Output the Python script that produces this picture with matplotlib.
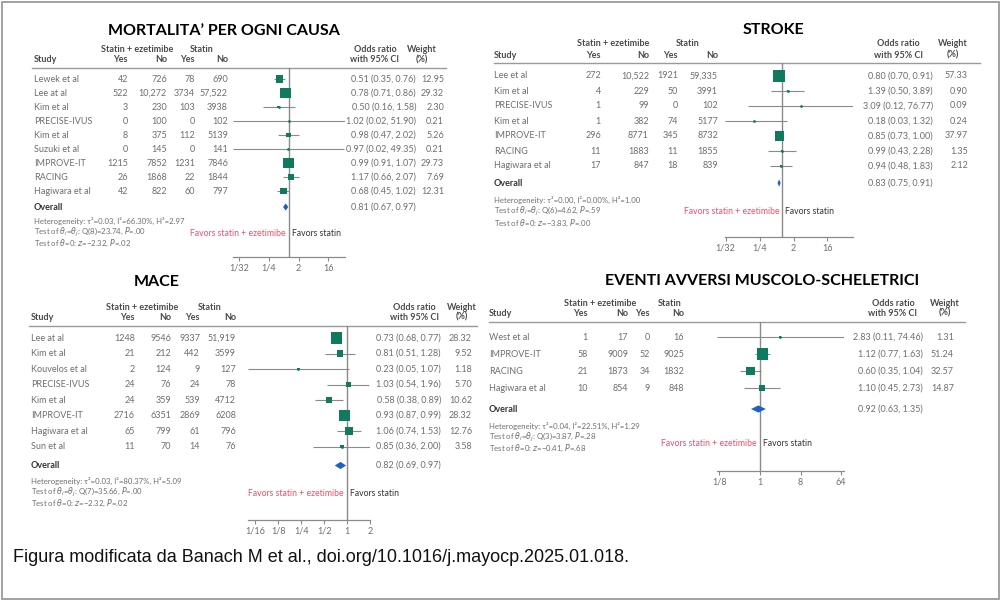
import numpy as np
import matplotlib
matplotlib.use("Agg")
import matplotlib.pyplot as plt
import matplotlib.transforms as mtransforms
from matplotlib.patches import Rectangle

plt.rcParams['font.family'] = ['Liberation Sans Narrow', 'Lato', 'DejaVu Sans']

# ---- dati: mortalita' per ogni causa
mort_studies = ["Lewek et al", "Lee at al", "Kim et al", "PRECISE-IVUS", "Kim et al",
                "Suzuki et al", "IMPROVE-IT", "RACING", "Hagiwara et al"]
mort_se_yes = [42, 522, 3, 0, 8, 0, 1215, 26, 42]
mort_se_no = [726, 10272, 230, 100, 375, 145, 7852, 1868, 822]
mort_st_yes = [78, 3734, 103, 0, 112, 0, 1231, 22, 60]
mort_st_no = [690, 57522, 3938, 102, 5139, 141, 7846, 1844, 797]
mort_or = [0.51, 0.78, 0.50, 1.02, 0.98, 0.97, 0.99, 1.17, 0.68]
mort_lo = [0.35, 0.71, 0.16, 0.02, 0.47, 0.02, 0.91, 0.66, 0.45]
mort_hi = [0.76, 0.86, 1.58, 51.90, 2.02, 49.35, 1.07, 2.07, 1.02]
mort_w = [12.95, 29.32, 2.30, 0.21, 5.26, 0.21, 29.73, 7.69, 12.31]
mort_overall = [0.81, 0.67, 0.97]
mort_het = ["Heterogeneity: τ²=0.03, I²=66.30%, H²=2.97",
            r"Test of $\theta_i$=$\theta_j$: Q(8)=23.74, $P$=.00",
            r"Test of $\theta$=0: $z$=−2.32, $P$=.02"]
mort_ticks = [1/32, 1/4, 2, 16]
mort_ticklabels = ["1/32", "1/4", "2", "16"]

# ---- stroke
str_studies = ["Lee et al", "Kim et al", "PRECISE-IVUS", "Kim et al", "IMPROVE-IT",
               "RACING", "Hagiwara et al"]
str_se_yes = [272, 4, 1, 1, 296, 11, 17]
str_se_no = [10522, 229, 99, 382, 8771, 1883, 847]
str_st_yes = [1921, 50, 0, 74, 345, 11, 18]
str_st_no = [59335, 3991, 102, 5177, 8732, 1855, 839]
str_or = [0.80, 1.39, 3.09, 0.18, 0.85, 0.99, 0.94]
str_lo = [0.70, 0.50, 0.12, 0.03, 0.73, 0.43, 0.48]
str_hi = [0.91, 3.89, 76.77, 1.32, 1.00, 2.28, 1.83]
str_w = [57.33, 0.90, 0.09, 0.24, 37.97, 1.35, 2.12]
str_overall = [0.83, 0.75, 0.91]
str_het = ["Heterogeneity: τ²=0.00, I²=0.00%, H²=1.00",
           r"Test of $\theta_i$=$\theta_j$: Q(6)=4.62, $P$=.59",
           r"Test of $\theta$=0: $z$=−3.83, $P$=.00"]
str_ticks = [1/32, 1/4, 2, 16]
str_ticklabels = ["1/32", "1/4", "2", "16"]

# ---- MACE
mace_studies = ["Lee at al", "Kim et al", "Kouvelos et al", "PRECISE-IVUS", "Kim et al",
                "IMPROVE-IT", "Hagiwara et al", "Sun et al"]
mace_se_yes = [1248, 21, 2, 24, 24, 2716, 65, 11]
mace_se_no = [9546, 212, 124, 76, 359, 6351, 799, 70]
mace_st_yes = [9337, 442, 9, 24, 539, 2869, 61, 14]
mace_st_no = [51919, 3599, 127, 78, 4712, 6208, 796, 76]
mace_or = [0.73, 0.81, 0.23, 1.03, 0.58, 0.93, 1.06, 0.85]
mace_lo = [0.68, 0.51, 0.05, 0.54, 0.38, 0.87, 0.74, 0.36]
mace_hi = [0.77, 1.28, 1.07, 1.96, 0.89, 0.99, 1.53, 2.00]
mace_w = [28.32, 9.52, 1.18, 5.70, 10.62, 28.32, 12.76, 3.58]
mace_overall = [0.82, 0.69, 0.97]
mace_het = ["Heterogeneity: τ²=0.03, I²=80.37%, H²=5.09",
            r"Test of $\theta_i$=$\theta_j$: Q(7)=35.66, $P$=.00",
            r"Test of $\theta$=0: $z$=−2.32, $P$=.02"]
mace_ticks = [1/16, 1/8, 1/4, 1/2, 1, 2]
mace_ticklabels = ["1/16", "1/8", "1/4", "1/2", "1", "2"]

# ---- eventi avversi muscolo-scheletrici
musc_studies = ["West et al", "IMPROVE-IT", "RACING", "Hagiwara et al"]
musc_se_yes = [1, 58, 21, 10]
musc_se_no = [17, 9009, 1873, 854]
musc_st_yes = [0, 52, 34, 9]
musc_st_no = [16, 9025, 1832, 848]
musc_or = [2.83, 1.12, 0.60, 1.10]
musc_lo = [0.11, 0.77, 0.35, 0.45]
musc_hi = [74.46, 1.63, 1.04, 2.73]
musc_w = [1.31, 51.24, 32.57, 14.87]
musc_overall = [0.92, 0.63, 1.35]
musc_het = ["Heterogeneity: τ²=0.04, I²=22.51%, H²=1.29",
            r"Test of $\theta_i$=$\theta_j$: Q(3)=3.87, $P$=.28",
            r"Test of $\theta$=0: $z$=−0.41, $P$=.68"]
musc_ticks = [1/8, 1, 8, 64]
musc_ticklabels = ["1/8", "1", "8", "64"]

caption = "Figura modificata da Banach M et al., doi.org/10.1016/j.mayocp.2025.01.018."

GREEN = "#0f7a5e"
BLUE = "#1c62c4"
RED = "#ee4f66"
GRAY = "#6e6e6e"
HEAD = "#4a4a4a"
FS = 6.5

W, H = 1000, 600
fig = plt.figure(figsize=(10, 6), dpi=100)
bg = fig.add_axes([0, 0, 1, 1])
bg.set_xlim(0, W)
bg.set_ylim(H, 0)
bg.axis('off')
bg.add_patch(Rectangle((1.5, 1.5), 997, 597, fill=False, ec="#9a9a9a", lw=1.3))
bg.text(13, 557, caption, fontsize=13, family=['Liberation Sans', 'DejaVu Sans'],
        va='center', ha='left', color='#111111')


def fmt(v):
    # come Stata: virgola solo sopra le 10.000
    return f"{v:,}" if v >= 10000 else str(v)


def forest(title, studies, se_yes, se_no, st_yes, st_no, odds, lo, hi, w, overall,
           het, ticks, ticklabels, lay):
    x0, x1 = lay['axis_x']
    ya, yh = lay['axis_y'], lay['line_y']
    r0, d = lay['row0'], lay['step']
    n = len(studies)

    ax = fig.add_axes([x0 / W, 1 - ya / H, (x1 - x0) / W, (ya - yh) / H])
    ax.patch.set_visible(False)
    ax.set_xscale('log', base=2)
    ax.set_xlim(min(lo), max(hi))
    ax.set_ylim((ya - r0) / d, (yh - r0) / d)
    for s in ['top', 'right', 'left']:
        ax.spines[s].set_visible(False)
    ax.spines['bottom'].set_color('#8a8a8a')
    ax.spines['bottom'].set_linewidth(0.9)
    ax.set_yticks([])
    ax.set_xticks(ticks, ticklabels)
    ax.set_xticks([], minor=True)
    ax.tick_params(axis='x', length=3, width=0.8, color='#8a8a8a', labelsize=FS,
                   labelcolor=GRAY, pad=2)

    rows = np.arange(n)
    ax.axvline(1, color='#8a8a8a', lw=1.0, zorder=1)
    ax.hlines(rows, lo, hi, color='#8a8a8a', lw=0.8, zorder=2)
    ax.scatter(odds, rows, s=lay['smax'] * np.array(w) / max(w), marker='s',
               color=GREEN, linewidths=0, zorder=3)
    ax.scatter(odds, rows, s=4, marker='o', color=GREEN, linewidths=0, zorder=4)
    yo = n - 1 + lay['gap'] / d
    hh = 3.6 / d
    ax.fill([overall[1], overall[0], overall[2], overall[0]],
            [yo, yo - hh, yo, yo + hh], color=BLUE, lw=0, zorder=4)

    # tabella
    tr = mtransforms.blended_transform_factory(bg.transData, ax.transData)
    sx = lay['study_x']
    cols = lay['cols']
    for i in range(n):
        kw = dict(transform=tr, fontsize=FS, color=GRAY, va='center')
        ax.text(sx, i, studies[i], ha='left', **kw)
        for cx, v in zip(cols, [se_yes[i], se_no[i], st_yes[i], st_no[i]]):
            ax.text(cx, i, fmt(v), ha='right', **kw)
        ax.text(lay['or_x'], i, f"{odds[i]:.2f} ({lo[i]:.2f}, {hi[i]:.2f})", ha='right', **kw)
        ax.text(lay['w_x'], i, f"{w[i]:.2f}", ha='right', **kw)
    ax.text(sx, yo, "Overall", transform=tr, fontsize=FS, color='#333333',
            weight='bold', ha='left', va='center')
    ax.text(lay['or_x'], yo, f"{overall[0]:.2f} ({overall[1]:.2f}, {overall[2]:.2f})",
            transform=tr, fontsize=FS, color=GRAY, ha='right', va='center')

    # intestazioni
    h1, h2 = lay['head_y']
    hk = dict(fontsize=FS, color=HEAD, weight='bold', va='center')
    bg.text(lay['se_c'], h1, "Statin + ezetimibe", ha='center', **hk)
    bg.text(lay['st_c'], h1, "Statin", ha='center', **hk)
    bg.text(sx, h2, "Study", ha='left', **hk)
    for cx, lab in zip(cols, ["Yes", "No", "Yes", "No"]):
        bg.text(cx, h2, lab, ha='right', **hk)
    bg.text(lay['or_c'], h1, "Odds ratio", ha='center', **hk)
    bg.text(lay['or_c'], h2, "with 95% CI", ha='center', **hk)
    bg.text(lay['w_c'], h1, "Weight", ha='center', **hk)
    bg.text(lay['w_c'], h2, "(%)", ha='center', **hk)
    bg.plot(lay['line_x'], [yh, yh], color='#9a9a9a', lw=1.0)

    bg.text(lay['title'][0], lay['title'][1], title, fontsize=11.5, weight='bold',
            family=['Lato', 'DejaVu Sans'], ha='center', va='center', color='black')

    for k, line in enumerate(het):
        bg.text(sx, lay['het_y'][k], line, fontsize=5.6, color=GRAY,
                ha='left', va='center')

    ft = mtransforms.blended_transform_factory(ax.transData, bg.transData)
    ax.text(1, lay['fav_y'], "Favors statin + ezetimibe",
            transform=mtransforms.offset_copy(ft, fig=fig, x=-3, units='dots'),
            fontsize=6.2, color=RED, ha='right', va='center')
    ax.text(1, lay['fav_y'], "Favors statin",
            transform=mtransforms.offset_copy(ft, fig=fig, x=3, units='dots'),
            fontsize=6.2, color='#333333', ha='left', va='center')


forest("MORTALITA’ PER OGNI CAUSA", mort_studies, mort_se_yes, mort_se_no, mort_st_yes,
       mort_st_no, mort_or, mort_lo, mort_hi, mort_w, mort_overall, mort_het,
       mort_ticks, mort_ticklabels,
       dict(axis_x=(233, 345), axis_y=257, line_y=68, line_x=(32, 446), row0=79, step=14,
            gap=16, smax=60, study_x=34, cols=[128, 167, 195, 228], or_x=416, w_x=444,
            se_c=137, st_c=202, or_c=375, w_c=422, head_y=(50, 60), title=(224, 31),
            het_y=[221, 232, 243], fav_y=234))

forest("STROKE", str_studies, str_se_yes, str_se_no, str_st_yes, str_st_no, str_or,
       str_lo, str_hi, str_w, str_overall, str_het, str_ticks, str_ticklabels,
       dict(axis_x=(725, 853), axis_y=237, line_y=63, line_x=(494, 980), row0=76, step=15,
            gap=17, smax=75, study_x=494, cols=[601, 649, 678, 718], or_x=933, w_x=968,
            se_c=613, st_c=688, or_c=898, w_c=953, head_y=(43, 55), title=(773, 30),
            het_y=[200, 211.5, 223], fav_y=212))

forest("MACE", mace_studies, mace_se_yes, mace_se_no, mace_st_yes, mace_st_no, mace_or,
       mace_lo, mace_hi, mace_w, mace_overall, mace_het, mace_ticks, mace_ticklabels,
       dict(axis_x=(248, 370), axis_y=520, line_y=326, line_x=(29, 477), row0=338,
            step=15.5, gap=19, smax=65, study_x=31, cols=[135, 171, 200, 236], or_x=441,
            w_x=472, se_c=142, st_c=210, or_c=414, w_c=462, head_y=(307, 317),
            title=(157, 282), het_y=[481, 492, 503.5], fav_y=494))

forest("EVENTI AVVERSI MUSCOLO-SCHELETRICI", musc_studies, musc_se_yes, musc_se_no,
       musc_st_yes, musc_st_no, musc_or, musc_lo, musc_hi, musc_w, musc_overall, musc_het,
       musc_ticks, musc_ticklabels,
       dict(axis_x=(717, 844), axis_y=471, line_y=322, line_x=(489, 965), row0=337, step=17,
            gap=21, smax=65, study_x=489, cols=[588, 628, 650, 684], or_x=923, w_x=954,
            se_c=600, st_c=670, or_c=893, w_c=945, head_y=(303, 313), title=(762, 281),
            het_y=[425.5, 437, 448.5], fav_y=443))

fig.savefig("out.png", dpi=100)
